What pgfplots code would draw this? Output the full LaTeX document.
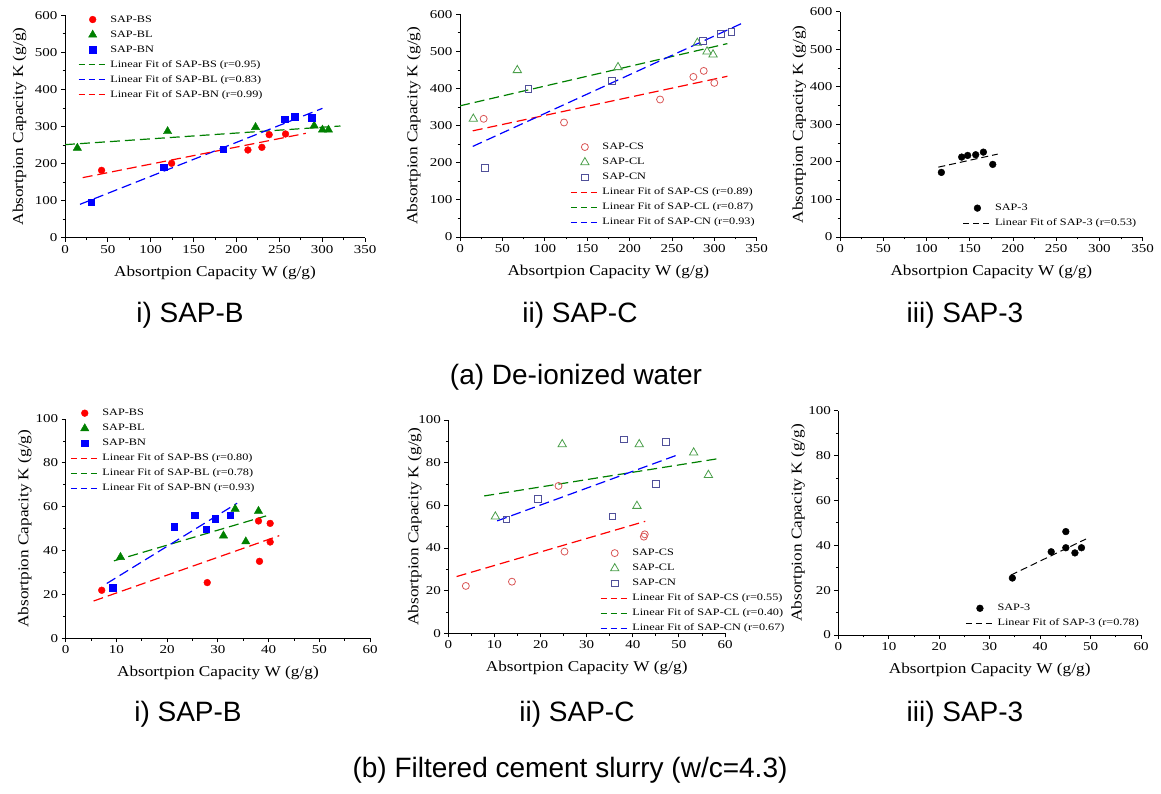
\documentclass[border=0pt]{standalone}
\usepackage{fontspec}
\setmainfont{Liberation Serif}
\newfontfamily\tickfont[FakeStretch=1.25]{Liberation Serif}
\newfontfamily\labfont[FakeStretch=1.15]{Liberation Serif}
\newfontfamily\capfont{Liberation Sans}
\usepackage{pgfplots}
\pgfplotsset{compat=1.18}

\definecolor{mRed}{HTML}{FF0000}
\definecolor{mGreen}{HTML}{008000}
\definecolor{mBlue}{HTML}{0000FF}
\definecolor{oRed}{HTML}{D95555}
\definecolor{oGreen}{HTML}{4A9E4A}
\definecolor{oBlue}{HTML}{505099}

\newcommand{\labsize}{\labfont\fontsize{15}{15}\selectfont}

\pgfplotsset{
  panel/.style={
    scale only axis,
    axis x line*=bottom, axis y line*=left,
    tick align=outside,
    major tick length=4pt, minor tick length=2.5pt,
    minor tick num=1,
    axis line style={line width=0.9pt, black},
    every tick/.style={black, line width=0.8pt},
    tick label style={font=\tickfont\fontsize{12}{12}\selectfont},
    /pgf/number format/assume math mode=true,
    xlabel={Absortpion Capacity W (g/g)},
    ylabel={Absortpion Capacity K (g/g)},
    every axis x label/.style={at={(axis description cs:0.5,0)}, anchor=base, yshift=-38.5pt, font=\labsize},
    legend cell align=left,
    legend style={draw=none, fill=none, inner sep=0pt, anchor=north west,
      row sep=6pt,
      font=\tickfont\fontsize{9.8}{10}\selectfont,
      nodes={inner sep=0pt, text height=7pt, text depth=2pt},
      /tikz/every odd column/.append style={column sep=3pt}},
  },
  ylpos/.style={every axis y label/.style={at={(axis description cs:-#1,0.5)}, rotate=90, anchor=base, font=\labsize}},
  aset/.style={xmin=0, xmax=350, ymin=0, ymax=600,
    xtick={0,50,...,350}, ytick={0,100,...,600}},
  bset/.style={xmin=0, xmax=60, ymin=0, ymax=100,
    xtick={0,10,...,60}, ytick={0,20,...,100}},
  mleg/.style={legend image code/.code={\draw[mark repeat=2,mark phase=2,##1] plot coordinates {(0pt,0pt) (14pt,0pt) (28pt,0pt)};}},
  fleg/.style={legend image code/.code={\draw[##1,line width=1.2pt,dash pattern=on 6pt off 4pt] (0pt,0pt) -- (28pt,0pt);}},
  fcirc/.style={only marks, mark=*, mark size=3.4pt, color=#1, mleg},
  ftri/.style={only marks, mark=triangle*, mark size=4.8pt, color=#1, mleg},
  fsq/.style={only marks, mark=square*, mark size=3.2pt, color=#1, mleg},
  ocirc/.style={only marks, mark=o, mark size=3.5pt, color=#1, mark options={line width=0.8pt}, mleg},
  otri/.style={only marks, mark=triangle, mark size=4.8pt, color=#1, mark options={line width=0.8pt}, mleg},
  osq/.style={only marks, mark=square, mark size=3.4pt, color=#1, mark options={line width=0.8pt}, mleg},
  fit/.style={no marks, color=#1, line width=1.2pt, dash pattern=on 10pt off 5pt, fleg},
}

\begin{document}
\begin{tikzpicture}
\useasboundingbox (0pt,0pt) rectangle (1161pt,794pt);

% ---------------- (a) i) SAP-B
\begin{axis}[panel, aset, ylpos=0.14,
  width=300pt, height=222.4pt, at={(65pt,556.3pt)}, anchor=south west,
  legend style={at={(0.043,1.002)}}]
  \addplot[fcirc=mRed] coordinates {(42.7,181.7) (124.4,200.6) (213.4,236.6) (229.7,243.8) (238.2,278) (257.3,279.8)};
  \addplot[ftri=mGreen] coordinates {(14.4,242) (119.7,287) (222.3,298) (290.7,302) (300.4,291) (307.4,291)};
  \addplot[fsq=mBlue] coordinates {(30.3,95.3) (115,189.8) (184.6,239.3) (256.1,320.2) (267.8,326.5) (287.6,323.8)};
  \addplot[fit=mGreen] coordinates {(0,251) (321.4,301.3)};
  \addplot[fit=mBlue] coordinates {(17.5,90) (300.4,349)};
  \addplot[fit=mRed] coordinates {(20.6,162) (281,281.6)};
  \legend{SAP-BS, SAP-BL, SAP-BN,
    Linear Fit of SAP-BS (r=0.95), Linear Fit of SAP-BL (r=0.83), Linear Fit of SAP-BN (r=0.99)}
\end{axis}

% ---------------- (a) ii) SAP-C
\begin{axis}[panel, aset, ylpos=0.144,
  width=296.7pt, height=222.7pt, at={(460pt,557pt)}, anchor=south west,
  legend style={at={(0.371,0.425)}}]
  \addplot[ocirc=oRed] coordinates {(27.9,318.4) (122.7,308.5) (236,370.4) (275.3,431.4) (287.5,447.5) (300,415.2)};
  \addplot[otri=oGreen] coordinates {(15.7,318.4) (67.6,449.3) (186.4,457.4) (280,522.9) (291.4,499.6) (298.5,491.5)};
  \addplot[osq=oBlue] coordinates {(29.1,186.5) (80.6,400) (179.3,419.7) (286.3,527.4) (307.5,546.1) (320.1,553.4)};
  \addplot[fit=mRed] coordinates {(15,286) (315.4,433)};
  \addplot[fit=mGreen] coordinates {(0,353.4) (315.4,521)};
  \addplot[fit=mBlue] coordinates {(15,244) (335.4,578.5)};
  \legend{SAP-CS, SAP-CL, SAP-CN,
    Linear Fit of SAP-CS (r=0.89), Linear Fit of SAP-CL (r=0.87), Linear Fit of SAP-CN (r=0.93)}
\end{axis}

% ---------------- (a) iii) SAP-3
\begin{axis}[panel, aset, ylpos=0.123,
  width=302.7pt, height=225.3pt, at={(840pt,557pt)}, anchor=south west,
  legend style={at={(0.405,0.149)}}]
  \addplot[fcirc=black] coordinates {(117.2,172) (140.7,212.8) (147.6,217.2) (156.9,219) (165.8,226) (176.6,193.3)};
  \addplot[fit=black, line width=1pt, dash pattern=on 7pt off 4pt] coordinates {(113.7,186) (182.3,220.7)};
  \legend{SAP-3, Linear Fit of SAP-3 (r=0.53)}
\end{axis}

% ---------------- (b) i) SAP-B
\begin{axis}[panel, bset, ylpos=0.123,
  width=304.4pt, height=219.3pt, at={(65.7pt,155.7pt)}, anchor=south west,
  legend style={at={(0.014,1.048)}}]
  \addplot[fcirc=mRed] coordinates {(7.1,21.9) (27.9,25.4) (38,53.5) (40.3,52.4) (38.2,35.1) (40.3,43.9)};
  \addplot[ftri=mGreen] coordinates {(10.8,37) (33.4,59) (38,58) (31.1,46.8) (35.5,44.1)};
  \addplot[fsq=mBlue] coordinates {(9.3,23.1) (21.4,50.8) (25.4,56.1) (27.7,49.8) (29.5,54.5) (32.4,56.2)};
  \addplot[fit=mRed] coordinates {(5.5,17) (42.1,46.8)};
  \addplot[fit=mGreen] coordinates {(9.5,35.3) (39.5,55.8)};
  \addplot[fit=mBlue] coordinates {(8.1,25) (33.8,61.6)};
  \legend{SAP-BS, SAP-BL, SAP-BN,
    Linear Fit of SAP-BS (r=0.80), Linear Fit of SAP-BL (r=0.78), Linear Fit of SAP-BN (r=0.93)}
\end{axis}

% ---------------- (b) ii) SAP-C
\begin{axis}[panel, bset, ylpos=0.108,
  width=276.7pt, height=213.3pt, at={(448.3pt,160.7pt)}, anchor=south west,
  legend style={at={(0.548,0.398)}}]
  \addplot[ocirc=oRed] coordinates {(3.8,22.2) (13.8,24.2) (25.2,38.3) (23.9,69.1) (42.6,46.4) (42.4,45.3)};
  \addplot[otri=oGreen] coordinates {(10.2,54.7) (24.7,88.6) (41.4,88.6) (40.9,59.7) (53.2,84.7) (56.4,74.2)};
  \addplot[osq=oBlue] coordinates {(12.6,53.4) (19.4,63.1) (35.6,54.8) (38,90.9) (45,70.2) (47.2,89.7)};
  \addplot[fit=mRed] coordinates {(1.8,26.6) (42.7,52.5)};
  \addplot[fit=mGreen] coordinates {(7.8,64.4) (58.9,82)};
  \addplot[fit=mBlue] coordinates {(10.6,52.7) (49.3,83.3)};
  \legend{SAP-CS, SAP-CL, SAP-CN,
    Linear Fit of SAP-CS (r=0.55), Linear Fit of SAP-CL (r=0.40), Linear Fit of SAP-CN (r=0.67)}
\end{axis}

% ---------------- (b) iii) SAP-3
\begin{axis}[panel, bset, ylpos=0.121,
  width=302.7pt, height=224.3pt, at={(838.3pt,159pt)}, anchor=south west,
  legend style={at={(0.419,0.140)}}]
  \addplot[fcirc=black] coordinates {(34.5,25.4) (42.2,37.1) (45.1,46.1) (45.1,38.9) (46.9,36.6) (48.2,38.9)};
  \addplot[fit=black, line width=1pt, dash pattern=on 7pt off 4pt] coordinates {(34.2,26.7) (49.1,42.8)};
  \legend{SAP-3, Linear Fit of SAP-3 (r=0.78)}
\end{axis}

% ---------------- captions
\begin{scope}[every node/.style={font=\capfont\fontsize{28}{28}\selectfont, anchor=base, inner sep=0pt}]
  \node at (190pt,471pt) {i) SAP-B};
  \node at (580pt,471pt) {ii) SAP-C};
  \node at (965pt,471pt) {iii) SAP-3};
  \node at (576pt,409pt) {(a) De-ionized water};
  \node at (188pt,72pt) {i) SAP-B};
  \node at (577pt,72pt) {ii) SAP-C};
  \node at (965pt,72pt) {iii) SAP-3};
  \node at (570pt,16pt) {(b) Filtered cement slurry (w/c=4.3)};
\end{scope}
\end{tikzpicture}
\end{document}
